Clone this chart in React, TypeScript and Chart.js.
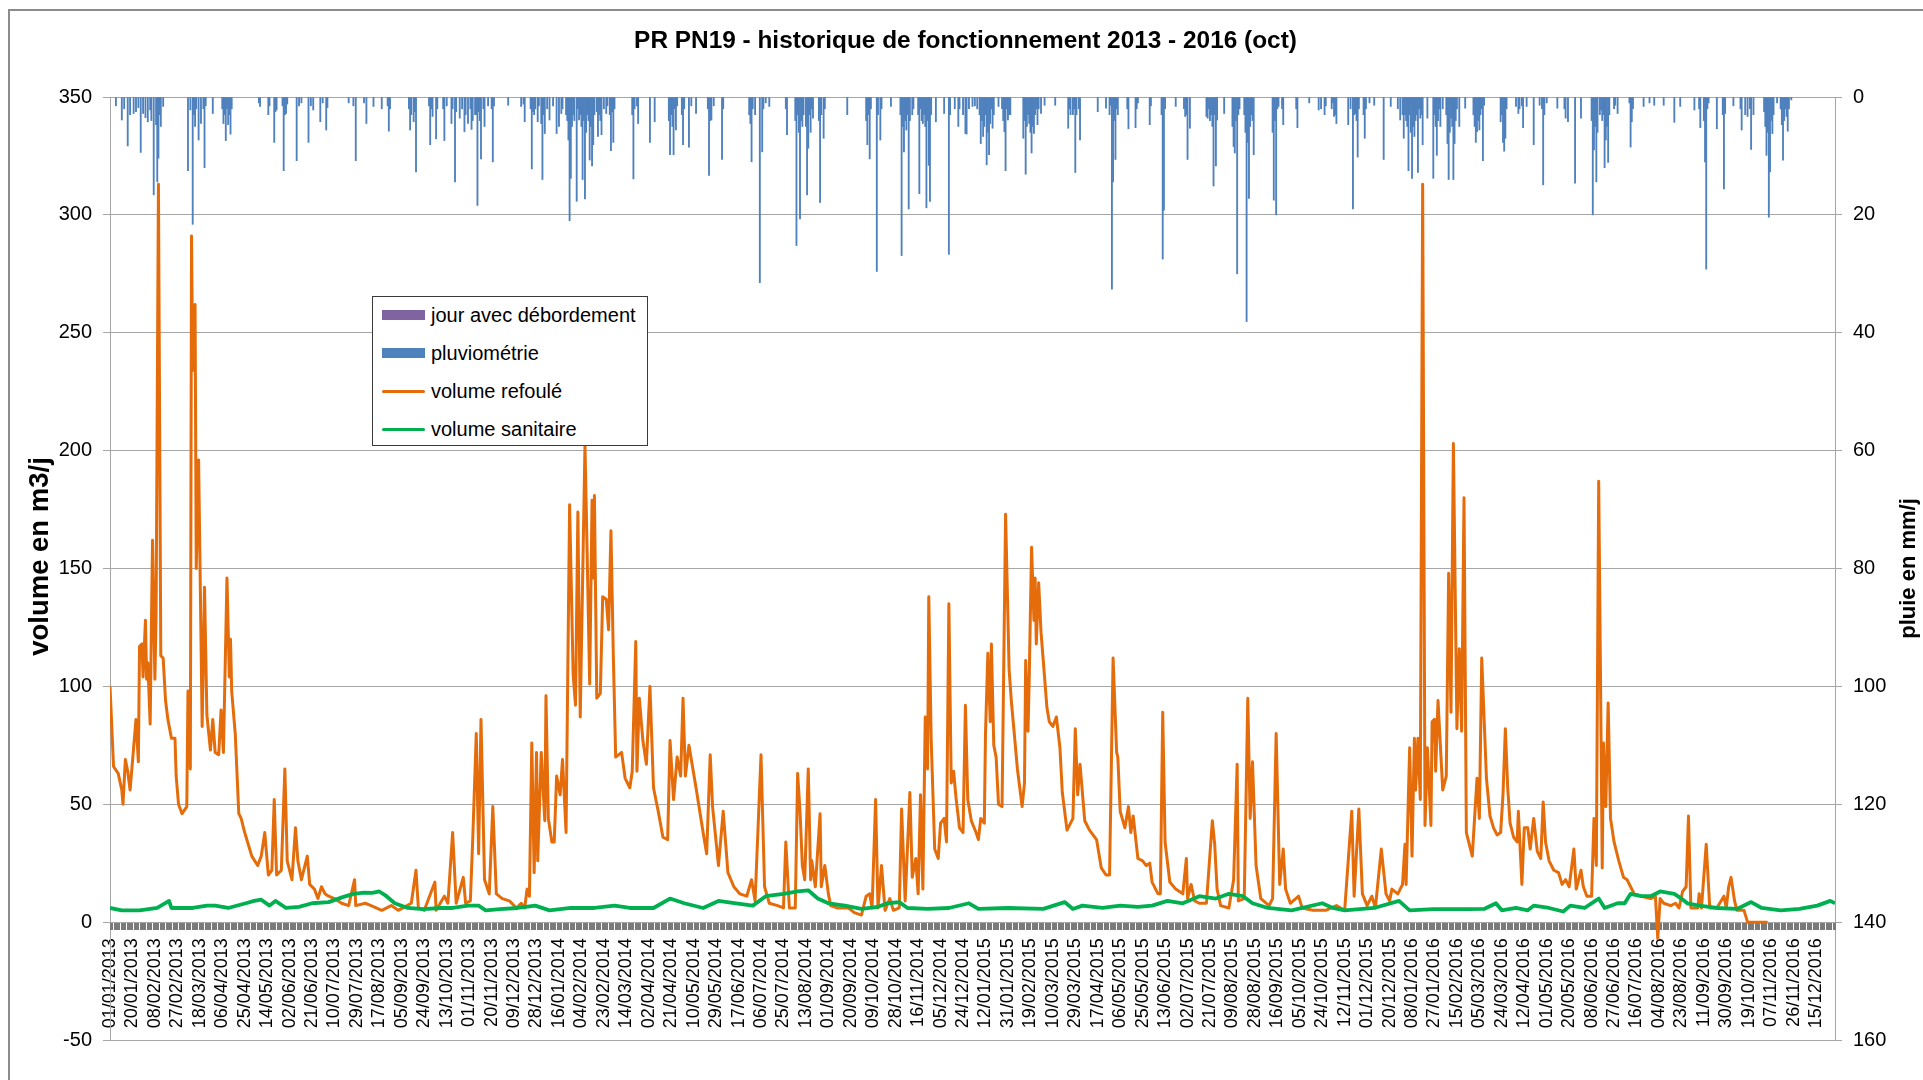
import React, { useEffect, useRef } from 'react';
import { Chart, registerables } from 'chart.js';

Chart.register(...registerables);

// ---- Text ----
const chartTitle = 'PR PN19 - historique de fonctionnement 2013 - 2016 (oct)';
const leftAxisTitle = 'volume en m3/j';
const rightAxisTitle = 'pluie en mm/j';
const seriesNames = ['jour avec débordement', 'pluviométrie', 'volume refoulé', 'volume sanitaire'];

// ---- Axes ----
const startYear = 2013;
const dayCount = 1461; // 01/01/2013 .. 31/12/2016
const dateLabelStep = 19;
const volumeTicks = { min: -50, max: 350, step: 50 };
const rainTicks = { min: 0, max: 160, step: 20 };

// ---- Series: [day index from 01/01/2013, value] ----
const joursDebordement: [number, number][] = [];

const volumeRefoule: [number, number][] = [
  [0,100],[3,66],[7,63],[10,56],[11,50],[13,69],[15,64],[17,56],[20,74],[22,86],[24,68],[25,117],[27,118],[28,104],[30,128],[31,103],[32,110],[34,84],[36,162],[38,103],[39,130],[41,313],[43,113],[45,112],[47,94],[49,86],[52,78],[55,78],[56,62],[58,50],[61,46],[65,49],[66,98],[68,65],[69,291],[70,234],[72,262],[73,150],[75,196],[78,83],[80,142],[82,88],[85,73],[87,86],[89,72],[92,71],[94,90],[96,72],[99,146],[101,104],[102,120],[103,98],[106,80],[109,46],[111,44],[114,38],[120,28],[125,24],[128,28],[131,38],[134,20],[137,22],[139,52],[141,20],[145,22],[148,65],[150,26],[154,18],[157,40],[159,26],[162,18],[167,28],[169,16],[173,14],[176,10],[179,15],[182,12],[185,11],[190,10],[196,8],[202,7],[207,18],[208,7],[216,8],[221,7],[230,5],[238,7],[244,5],[255,8],[259,22],[261,6],[266,5],[275,17],[276,5],[283,11],[286,8],[290,38],
  [293,8],[299,19],[301,8],[305,9],[307,35],[310,80],[312,29],[314,86],[317,18],[321,12],[324,49],[327,12],[332,10],[338,9],[344,6],[348,8],[351,6],[353,14],[355,11],[357,76],[359,21],[361,72],[362,26],[365,72],[368,43],[369,96],[371,44],[374,34],[376,34],[378,62],[381,54],[383,69],[386,38],[389,177],[392,105],[394,92],[396,174],[398,87],[402,202],[403,178],[406,101],[408,179],[409,146],[410,181],[412,95],[415,97],[417,138],[420,137],[422,124],[424,166],[426,113],[428,70],[433,72],[436,61],[440,57],[442,64],[445,119],[446,64],[448,95],[451,77],[454,67],[457,100],[460,57],[464,47],[468,36],[472,35],[474,77],[477,52],[480,70],[483,62],[485,95],[487,62],[490,75],[496,57],[502,38],[505,29],[508,71],[510,49],[515,24],[519,47],[523,21],[528,15],[533,12],[539,11],[543,18],[546,9],[551,71],[554,15],[558,8],[565,7],[570,6],[572,34],[575,6],[580,6],
  [582,63],[584,47],[586,24],[588,18],[591,65],[593,18],[594,26],[597,15],[601,46],[602,15],[605,24],[608,12],[610,7],[616,6],[625,6],[630,4],[636,3],[640,11],[643,12],[645,6],[648,52],[650,6],[653,24],[656,5],[660,10],[663,5],[668,6],[670,48],[673,9],[677,55],[679,19],[682,27],[684,12],[686,54],[688,14],[690,87],[692,65],[693,138],[695,78],[698,31],[701,27],[703,42],[706,44],[708,34],[710,135],[712,59],[714,64],[716,53],[719,40],[722,38],[724,92],[726,52],[729,43],[733,38],[735,35],[737,44],[740,42],[741,80],[743,114],[745,85],[746,118],[748,75],[750,70],[752,50],[755,49],[758,173],[761,107],[763,93],[765,82],[768,65],[772,49],[774,59],[775,111],[777,81],[778,103],[780,159],[782,128],[783,146],[784,118],[786,144],[788,123],[793,91],[795,85],[798,83],[801,87],[804,74],[806,55],[810,39],[815,44],[817,82],[819,54],[821,67],[825,43],[829,39],[835,35],[839,23],[843,20],[846,20],[849,112],[852,72],[853,70],[855,47],[859,40],[862,49],[864,38],[866,45],[870,27],
  [874,26],[877,24],[880,25],[882,17],[887,12],[889,12],[891,89],[893,34],[897,17],[902,14],[908,12],[911,27],[912,10],[915,16],[918,9],[922,8],[928,8],[933,43],[935,33],[937,14],[940,7],[947,6],[951,18],[954,67],[955,9],[960,10],[963,95],[965,44],[967,68],[970,24],[974,10],[981,7],[984,10],[987,80],[990,16],[993,31],[995,14],[999,8],[1006,11],[1009,6],[1018,5],[1029,5],[1038,7],[1045,5],[1051,47],[1053,11],[1057,48],[1060,12],[1064,7],[1068,11],[1071,6],[1076,31],[1080,12],[1083,9],[1085,14],[1090,12],[1094,16],[1096,33],[1097,16],[1100,74],[1102,28],[1104,78],[1105,56],[1107,78],[1109,52],[1111,313],[1113,41],[1115,74],[1118,41],[1119,85],[1121,86],[1122,64],[1124,94],[1126,75],[1128,56],[1131,62],[1133,148],[1135,89],[1137,203],[1140,82],[1142,116],[1144,81],[1146,180],[1148,38],[1153,28],[1157,61],[1159,44],[1161,112],
  [1165,61],[1168,45],[1171,40],[1174,37],[1177,38],[1179,54],[1181,82],[1183,57],[1185,42],[1188,36],[1191,34],[1192,47],[1195,16],[1197,40],[1200,40],[1202,31],[1205,44],[1208,30],[1211,27],[1213,51],[1215,34],[1218,26],[1222,22],[1226,21],[1229,16],[1232,18],[1235,15],[1236,19],[1239,31],[1241,14],[1245,22],[1247,15],[1250,11],[1254,11],[1256,44],[1258,24],[1260,187],[1262,78],[1263,23],[1264,76],[1266,49],[1268,93],[1270,44],[1273,34],[1277,26],[1281,19],[1284,18],[1287,15],[1290,12],[1296,11],[1304,10],[1308,11],[1310,-7],[1312,10],[1315,8],[1321,7],[1325,8],[1328,6],[1331,13],[1334,15],[1336,45],[1338,6],[1344,6],[1345,12],[1347,6],[1351,33],[1354,6],[1360,6],[1366,11],[1368,6],[1370,15],[1372,19],[1375,9],[1377,5],[1383,5],[1386,0],[1403,0]
];

const volumeSanitaire: [number, number][] = [
  [0,6],[10,5],[25,5],[40,6],[50,9],[52,6],[70,6],[82,7],[89,7],[100,6],[115,8],[122,9],[128,9.5],[135,7],[140,9],[149,6],[160,6.5],[171,8],[185,8.5],[197,10.6],[206,12],[215,12.5],[222,12.4],[228,13],[234,11],[241,8],[252,6],[265,5.5],[280,6],[290,6],[303,7],[312,7],[318,5],[330,5.5],[345,6],[360,7],[372,5],[390,6],[410,6],[427,7],[440,6],[460,6],[474,10],[486,8],[502,6],[515,9],[530,8],[544,7],[555,11],[570,12],[582,13],[591,13.5],[599,10],[608,8],[622,7],[636,5.6],[650,6.5],[658,8],[668,8.5],[675,6],[692,5.6],[710,6],[727,8],[735,5.6],[760,6],[790,5.6],[808,8.5],[815,5.6],[823,7],[840,6],[855,7],[870,6.5],[882,7],[895,9],[908,8],[922,11],[936,10],[947,12],[959,11],[967,8],[980,6],[1000,5],[1026,8],[1035,6],[1045,5],[1070,6],[1091,9],[1100,5],[1120,5.5],[1150,5.5],[1163,5.6],[1173,8],[1178,5],[1190,6],[1200,5],[1205,7],[1218,6],[1230,4.5],[1236,7],[1248,6],[1260,10],[1265,6],[1276,8],[1282,8],[1287,12],[1296,11],[1304,11],[1312,13],[1324,12],[1330,10],[1335,8],[1345,7],[1360,6],[1377,5.6],[1389,8.5],[1398,6],[1414,5],[1430,5.6],[1445,7],[1456,9],[1460,8]
];

const pluviometrie: [number, number][] = [
  [5,1.5],[10,3.9],[12,2],[15,8.3],[17,3],[20,2.8],[22,2.5],[24,1.8],[26,9.4],[28,2.8],[30,3.5],[32,4.2],[34,2.2],[35,4],[37,16.6],[39,4.7],[40,14.4],[41,10.4],[42,3],[43,5],[45,1.6],[66,12.5],[68,2.2],[70,21.6],[71,3],[72,5],[73,2],[75,7.3],[77,4.5],[79,2],[80,12],[81,1.5],[87,2.8],[95,2],[96,4.5],[97,3],[98,7.4],[99,2],[100,4.7],[101,3],[102,6.3],[103,2],
  [126,1],[127,1.6],[134,3],[135,1.5],[139,7.7],[140,2.5],[141,2.2],[146,1.5],[147,12.5],[148,3],[149,2.8],[150,1.2],[158,10.8],[160,1.5],[162,1],[168,7.7],[170,1.5],[172,2.2],[178,4.2],[180,1],[183,5.6],[184,1.8],[202,1],[206,1.5],[208,10.8],[215,1],[217,4.5],[223,1.6],[230,2],[235,1.5],[236,5.8],[237,2],[253,2],[254,5.6],[255,3],[257,4.2],[258,2.5],[259,12.7],[270,1.5],[271,8.1],[272,2],[273,3.3],[276,7.1],[277,2],[282,2],[283,7.4],[285,1.5],[289,4.5],[290,2],[292,14.4],[293,2.5],[296,3.6],[298,2],[300,5.9],[301,3],[303,4.5],[305,2],[306,5.5],[307,4],[309,3],[310,3],[311,18.4],[312,2.5],[313,4],[314,10.5],[316,2],[317,5],[320,1.5],[323,2],[324,11],[325,1.5],[337,1.4],[348,1.6],[350,1.2],[351,4.2],[356,2],[357,12.2],[358,2.5],[359,3],[360,2],[362,4.2],[363,1.5],
  [365,4.5],[366,14],[367,3],[368,6.2],[370,2],[372,3.9],[375,1.5],[378,6.2],[380,5],[382,2.8],[383,2],[386,3],[387,4],[388,7.3],[389,21],[390,13.8],[391,5],[392,3],[393,4],[395,17.7],[396,2],[397,3.9],[398,3],[399,5],[400,14],[401,4],[402,17.3],[403,6],[404,3],[405,4],[406,10.7],[407,5],[408,11.7],[409,8.1],[410,3],[412,2.5],[413,6.7],[414,3],[415,4],[416,6.4],[418,2],[420,2.8],[421,1.5],[423,3],[424,9.1],[425,2.5],[426,7.7],[427,2],[442,3],[443,13.9],[444,2],[446,1.5],[447,4.5],[457,7.7],[461,4.2],[473,4],[474,9.8],[475,3],[476,5],[477,9.8],[478,2],[479,5.6],[480,1.5],[484,3],[485,8.1],[486,2],[490,8.5],[492,1.5],[496,2.8],[506,2],[507,13.3],[508,4],[509,3.9],[511,1.5],[518,10.6],[519,2],
  [541,3],[542,4.5],[543,11],[544,2],[546,3],[550,31.5],[552,9.3],[553,2],[555,1],[558,1.6],[572,2],[573,6.4],[580,4],[581,25.2],[582,3],[583,6],[584,20.7],[585,4],[586,5],[587,3],[589,5],[590,16.6],[591,8.7],[592,3],[593,6],[594,2],[595,3.6],[600,4],[601,17.9],[602,3],[604,7],[605,2],[624,3],[640,4],[641,8.1],[642,3],[643,10.5],[644,2],[649,29.6],[650,3],[652,7.3],[653,2],[661,1.6],[669,3],[670,26.9],[671,5],[672,9.3],[673,4],[674,5.6],[675,3],[676,19],[677,4],[679,3],[680,2],[684,3],[685,16.4],[686,2],[687,4],[688,4.5],[689,3],[690,5],[691,18.8],[692,4],[693,11.6],[694,17.7],[695,3],[699,4.2],[706,2.8],[710,26.7],[711,3],[715,2],[718,5],[719,2],[722,3],[724,6.2],[725,6.3],[727,2],[730,1.6],
  [732,1.5],[734,2],[736,3],[737,7.9],[738,4],[739,6.7],[740,5],[741,3],[742,11.5],[743,6],[744,9.8],[745,4.5],[746,2],[747,5.3],[748,3],[752,1.6],[755,2],[756,4],[757,5.9],[758,12.5],[759,2],[760,3.9],[761,3],[762,3],[773,7],[774,4],[775,13.1],[776,5],[777,3],[778,4.5],[779,6],[780,9.5],[781,5],[782,6.2],[783,3],[784,2],[785,4.7],[786,2],[788,2.8],[791,1.4],[800,1.4],[811,5.3],[812,2],[813,3],[815,3],[816,2],[817,12.8],[818,3],[820,2],[821,7.3],[836,2.5],[843,1.9],[846,3],[847,1.4],[848,32.6],[849,14.4],[850,4],[851,10.6],[852,2],[853,3],[861,2],[862,5.4],[868,5.2],[869,2],[870,1],[880,4.7],[881,1.5],[890,3],[891,27.5],[892,19.2],[893,2],[902,1.6],[909,2],[910,3.3],[911,3],[912,10.6],[914,5.3],[928,3.3],[929,3.6],[930,2],[931,4],[932,3],[933,5],[934,15.1],[935,3],[936,11.7],[937,3.9],[943,2.8],[950,5],[951,8.4],[952,9.5],[953,4],[954,30],[955,3],[956,2],[960,3],[961,6],[962,38.1],[963,7.7],[964,17.2],[965,5],[966,3],[967,4],[968,9.8],
  [984,6],[985,17.5],[986,4],[987,20],[988,2],[989,1.6],[992,2],[993,4.7],[1004,2],[1005,5.2],[1015,1],[1023,2.2],[1025,2],[1028,3],[1029,1.5],[1034,2],[1035,1],[1036,3.3],[1037,3],[1038,4.5],[1048,4.7],[1050,2],[1052,19],[1053,3],[1054,2.8],[1055,4],[1056,10.2],[1057,2],[1061,3],[1062,7],[1063,2],[1066,1],[1070,1.4],[1078,10.6],[1084,1.6],[1090,2],[1092,3.9],[1094,3],
  [1095,7],[1096,3],[1097,4],[1098,5],[1099,12.5],[1100,3],[1101,6],[1102,13.8],[1103,5],[1104,6.7],[1105,4],[1106,3],[1107,12.8],[1108,2],[1109,3.6],[1110,3],[1111,8.1],[1115,3.6],[1120,13.8],[1121,3],[1122,5],[1123,9.9],[1124,4],[1125,2],[1126,5],[1128,2],[1131,3],[1132,7.9],[1133,14],[1134,6],[1135,3.6],[1136,5],[1137,14],[1138,7.9],[1139,4],[1140,2],[1142,5],[1147,1.9],[1154,3],[1155,5],[1156,7.7],[1157,5.9],[1158,4],[1159,5.6],[1160,3],[1161,2],[1162,10.8],[1163,1.4],[1177,4.2],[1178,3],[1179,7.7],[1180,9.2],[1181,7],[1182,2],[1190,1.6],[1192,2.8],[1193,2],[1195,1.5],[1196,5.2],[1199,1.6],[1205,8.1],[1210,1.4],[1212,2],[1213,14.9],[1214,3],[1216,1],[1225,1.9],[1231,2],[1232,3.6],[1234,4.2],[1240,14.6],[1245,3.6],
  [1254,4],[1255,20],[1256,9],[1257,5],[1258,14.4],[1259,6],[1261,3],[1262,2.2],[1263,4],[1264,3],[1265,12],[1266,7.3],[1267,5],[1268,11.1],[1269,3],[1273,2],[1274,1.4],[1276,2.8],[1286,1],[1287,8.5],[1288,4.2],[1289,2],[1298,1.6],[1303,1],[1307,1.4],[1315,1.4],[1324,4.3],[1329,1.6],[1341,2.2],[1345,2],[1346,5.2],[1349,4],[1350,11],[1351,29.2],[1352,2],[1353,1],[1360,5.4],[1365,3],[1366,15.6],[1367,2.8],[1374,1.5],[1380,2],[1381,5.6],[1384,3],[1386,3.3],[1388,2],[1389,8.9],[1391,3],[1400,2.5],[1401,5],[1402,9.9],[1403,6],[1404,20.4],[1405,12.7],[1406,4],[1407,6.2],[1408,3],[1411,1],[1414,2],[1415,4.7],[1416,10.7],[1417,4],[1418,2],[1419,3.3],[1420,5.8],[1421,2],[1423,0.5]
];

// ---- Colours ----
const colPurple = '#8064A2';
const colBlue = '#4F81BD';
const colOrange = '#E46C0A';
const colGreen = '#00B050';
const colGrid = '#A6A6A6';
const FONT = "'Liberation Sans', Arial, sans-serif";

function dateLabel(i: number): string {
  const d = new Date(Date.UTC(startYear, 0, 1 + i));
  const dd = String(d.getUTCDate()).padStart(2, '0');
  const mm = String(d.getUTCMonth() + 1).padStart(2, '0');
  return `${dd}/${mm}/${d.getUTCFullYear()}`;
}

const toXY = (arr: [number, number][]) => arr.map(([x, y]) => ({ x, y }));

const framePlugin = {
  id: 'frame',
  beforeDraw(chart: any) {
    const ctx = chart.ctx;
    ctx.save();
    ctx.strokeStyle = '#8C8C8C';
    ctx.lineWidth = 2;
    ctx.strokeRect(9, 10, 2000, 2000);
    ctx.restore();
  },
};

const tickBandPlugin = {
  id: 'tickBand',
  beforeDatasetsDraw(chart: any) {
    const ctx = chart.ctx;
    const xs = chart.scales.x;
    const ys = chart.scales.y;
    const y0 = Math.round(ys.getPixelForValue(0));
    ctx.save();
    ctx.fillStyle = '#7A7A7A';
    for (let d = 0; d < dayCount; d++) {
      const px = Math.round(xs.getPixelForValue(d));
      ctx.fillRect(px, y0 + 1, 1, 7);
    }
    ctx.restore();
  },
};

const axisTitlesPlugin = {
  id: 'axisTitles',
  afterDraw(chart: any) {
    const ctx = chart.ctx;
    const area = chart.chartArea;
    const drawVertical = (text: string, x: number, y: number, size: number) => {
      ctx.save();
      ctx.translate(x, y);
      ctx.rotate(-Math.PI / 2);
      ctx.font = `bold ${size}px ${FONT}`;
      ctx.fillStyle = '#000';
      ctx.textAlign = 'center';
      ctx.textBaseline = 'middle';
      ctx.fillText(text, 0, 0);
      ctx.restore();
    };
    drawVertical(leftAxisTitle, 40, (area.top + area.bottom) / 2 - 12, 27.5);
    drawVertical(rightAxisTitle, 1909, (area.top + area.bottom) / 2, 22);
  },
};

function ChartCanvas() {
  const ref = useRef<HTMLCanvasElement | null>(null);
  useEffect(() => {
    if (!ref.current) return;
    const chart = new Chart(ref.current, {
      type: 'bar',
      data: {
        datasets: [
          {
            type: 'bar',
            label: seriesNames[0],
            data: toXY(joursDebordement),
            yAxisID: 'y1',
            backgroundColor: colPurple,
            barThickness: 1.2,
            grouped: false,
            order: 4,
          } as any,
          {
            type: 'bar',
            label: seriesNames[1],
            data: toXY(pluviometrie),
            yAxisID: 'y1',
            backgroundColor: colBlue,
            barThickness: 1.2,
            grouped: false,
            order: 3,
          } as any,
          {
            type: 'line',
            label: seriesNames[2],
            data: toXY(volumeRefoule),
            yAxisID: 'y',
            borderColor: colOrange,
            backgroundColor: colOrange,
            borderWidth: 3,
            borderJoinStyle: 'round',
            pointRadius: 0,
            tension: 0,
            order: 1,
          } as any,
          {
            type: 'line',
            label: seriesNames[3],
            data: toXY(volumeSanitaire),
            yAxisID: 'y',
            borderColor: colGreen,
            backgroundColor: colGreen,
            borderWidth: 3.8,
            borderJoinStyle: 'round',
            pointRadius: 0,
            tension: 0,
            order: 0,
          } as any,
        ],
      },
      options: {
        responsive: false,
        devicePixelRatio: 1,
        animation: false,
        events: [],
        layout: { padding: { top: 0, left: 8, right: 0, bottom: 40 } },
        plugins: {
          legend: { display: false },
          tooltip: { enabled: false },
          title: {
            display: true,
            text: chartTitle,
            color: '#000',
            font: { family: FONT, size: 24.4, weight: 'bold', lineHeight: 1 },
            padding: { top: 28.8, bottom: 43.8 },
          },
        },
        scales: {
          x: {
            type: 'linear',
            position: { y: 0 } as any,
            min: 0,
            max: dayCount - 1,
            offset: false,
            grid: { display: false },
            border: { display: true, color: colGrid },
            ticks: {
              stepSize: dateLabelStep,
              autoSkip: false,
              includeBounds: false,
              maxRotation: 90,
              minRotation: 90,
              padding: 8,
              color: '#000',
              font: { family: FONT, size: 18 },
              callback: (v: any) => dateLabel(Number(v)),
            },
          },
          y: {
            type: 'linear',
            position: 'left',
            min: volumeTicks.min,
            max: volumeTicks.max,
            afterFit: (s: any) => { s.width = 102; },
            grid: { color: colGrid, tickLength: 7, lineWidth: 1 },
            border: { display: true, color: colGrid },
            ticks: {
              stepSize: volumeTicks.step,
              padding: 11,
              color: '#000',
              font: { family: FONT, size: 20 },
            },
          },
          y1: {
            type: 'linear',
            position: 'right',
            reverse: true,
            min: rainTicks.min,
            max: rainTicks.max,
            afterFit: (s: any) => { s.width = 88; },
            grid: { drawOnChartArea: false, color: colGrid, tickLength: 7 },
            border: { display: true, color: colGrid },
            ticks: {
              stepSize: rainTicks.step,
              padding: 11,
              color: '#000',
              font: { family: FONT, size: 20 },
            },
          },
        },
      } as any,
      plugins: [framePlugin, tickBandPlugin, axisTitlesPlugin],
    });
    return () => chart.destroy();
  }, []);
  return <canvas ref={ref} width={1923} height={1080} style={{ display: 'block' }} />;
}

function LegendRow({ name, kind, color, top }: { name: string; kind: 'box' | 'line'; color: string; top: number }) {
  return (
    <div style={{ position: 'absolute', left: 0, top: top - 13, height: 26, width: '100%' }}>
      <div
        style={{
          position: 'absolute',
          left: 9,
          width: 43,
          top: kind === 'box' ? 13 - 5 : 13 - 1.5,
          height: kind === 'box' ? 10 : 3,
          background: color,
          borderRadius: kind === 'line' ? 1.5 : 0,
        }}
      />
      <div
        style={{
          position: 'absolute',
          left: 58,
          top: 0,
          lineHeight: '26px',
          fontSize: 20,
          fontFamily: FONT,
          color: '#000',
          whiteSpace: 'nowrap',
        }}
      >
        {name}
      </div>
    </div>
  );
}

export default function App() {
  return (
    <div style={{ position: 'absolute', left: 0, top: 0, width: 1923, height: 1080, background: '#fff', overflow: 'hidden' }}>
      <ChartCanvas />
      <div
        style={{
          position: 'absolute',
          left: 372,
          top: 296,
          width: 276,
          height: 150,
          boxSizing: 'border-box',
          border: '1px solid #3a3a3a',
          background: '#fff',
        }}
      >
        <LegendRow name={seriesNames[0]} kind="box" color={colPurple} top={18} />
        <LegendRow name={seriesNames[1]} kind="box" color={colBlue} top={56} />
        <LegendRow name={seriesNames[2]} kind="line" color={colOrange} top={94} />
        <LegendRow name={seriesNames[3]} kind="line" color={colGreen} top={132} />
      </div>
    </div>
  );
}
